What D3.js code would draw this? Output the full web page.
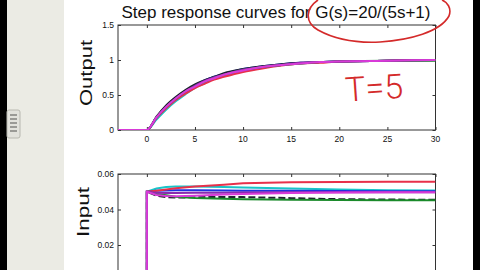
<!DOCTYPE html>
<html>
<head>
<meta charset="utf-8">
<script src="https://cdn.jsdelivr.net/npm/d3@7"></script>
<style>
  body { margin: 0; background: #000; }
  svg { display: block; }
</style>
</head>
<body>
<script>
// time samples
var tOut = [-3, 0, 1, 2, 3, 4, 5, 6, 7, 8, 10, 12, 14, 16, 18, 20, 25, 30];
var tIn = [-3, 0, 0, 1, 2, 3, 5, 8, 10, 15, 20, 25, 30];

var seriesNames = ["cyan", "blue", "black", "red", "green", "purple", "magenta"];
var seriesColors = ["#19c4c8", "#1f2fe0", "#202030", "#e8304a", "#1a8a2a", "#8a2ab0", "#d83ad8"];

// output curves (top plot)
var outCyan    = [0, 0, 0.15, 0.29, 0.41, 0.51, 0.60, 0.67, 0.73, 0.77, 0.84, 0.89, 0.93, 0.95, 0.97, 0.98, 0.99, 1.0];
var outBlue    = [0, 0, 0.18, 0.34, 0.46, 0.56, 0.64, 0.71, 0.76, 0.80, 0.87, 0.91, 0.94, 0.96, 0.97, 0.98, 0.99, 1.0];
var outBlack   = [0, 0, 0.19, 0.35, 0.47, 0.57, 0.65, 0.71, 0.76, 0.81, 0.87, 0.91, 0.94, 0.96, 0.97, 0.98, 0.99, 1.0];
var outRed     = [0, 0, 0.17, 0.31, 0.43, 0.52, 0.60, 0.66, 0.72, 0.76, 0.83, 0.88, 0.92, 0.95, 0.96, 0.98, 0.99, 1.0];
var outGreen   = [0, 0, 0.18, 0.33, 0.45, 0.55, 0.63, 0.69, 0.75, 0.79, 0.86, 0.90, 0.93, 0.95, 0.97, 0.98, 0.99, 0.99];
var outPurple  = [0, 0, 0.18, 0.33, 0.45, 0.55, 0.63, 0.70, 0.75, 0.79, 0.86, 0.90, 0.93, 0.96, 0.97, 0.98, 0.99, 1.0];
var outMagenta = [0, 0, 0.18, 0.33, 0.45, 0.55, 0.62, 0.69, 0.74, 0.79, 0.85, 0.90, 0.93, 0.95, 0.97, 0.98, 0.99, 1.0];

// input curves (bottom plot)
var inCyan    = [0, 0, 0.05, 0.0518, 0.0527, 0.0530, 0.0529, 0.0527, 0.0524, 0.0518, 0.0512, 0.0509, 0.0507];
var inBlue    = [0, 0, 0.05, 0.0505, 0.0507, 0.0508, 0.0508, 0.0507, 0.0506, 0.0505, 0.0504, 0.0503, 0.0503];
var inBlack   = [0, 0, 0.05, 0.0478, 0.0470, 0.0467, 0.0469, 0.0471, 0.0470, 0.0464, 0.0458, 0.0456, 0.0455];
var inRed     = [0, 0, 0.05, 0.0506, 0.0513, 0.0520, 0.0530, 0.0540, 0.0548, 0.0553, 0.0555, 0.0556, 0.0557];
var inGreen   = [0, 0, 0.05, 0.0488, 0.0480, 0.0472, 0.0465, 0.0460, 0.0458, 0.0455, 0.0453, 0.0452, 0.0452];
var inPurple  = [0, 0, 0.05, 0.0495, 0.0493, 0.0493, 0.0494, 0.0495, 0.0496, 0.0497, 0.0497, 0.0497, 0.0497];
var inMagenta = [0, 0, 0.05, 0.0482, 0.0476, 0.0475, 0.0478, 0.0485, 0.0488, 0.0493, 0.0496, 0.0497, 0.0497];

var outputs = [outCyan, outBlue, outBlack, outRed, outGreen, outPurple, outMagenta];
var inputs = [inCyan, inBlue, inBlack, inRed, inGreen, inPurple, inMagenta];

var xTicks = [0, 5, 10, 15, 20, 25, 30];
var outTicks = [0, 0.5, 1, 1.5];
var inTicks = [0.02, 0.04, 0.06];

var w = 480, h = 270;

let svg = d3.select("body")
    .append("svg")
    .attr("width", w)
    .attr("height", h);

// screen background pieces
svg.append("rect").attr("x", 0).attr("y", 0).attr("width", w).attr("height", h).attr("fill", "#000");
svg.append("rect").attr("x", 7).attr("y", 0).attr("width", 57).attr("height", h).attr("fill", "#ebebe4");
svg.append("rect").attr("x", 64).attr("y", 0).attr("width", 409).attr("height", h).attr("fill", "#fff");

// little scroll handle on the left
svg.append("rect").attr("x", 7).attr("y", 110).attr("width", 13).attr("height", 28)
    .attr("rx", 2).attr("fill", "#e2e2dc").attr("stroke", "#b8b8b0");
[114, 118, 122, 126, 130].forEach(function(yy) {
    svg.append("rect").attr("x", 10).attr("y", yy).attr("width", 7).attr("height", 2).attr("fill", "#9a9a96");
});

let x = d3.scaleLinear().domain([-3, 30]).range([118, 435.5]);
let yOut = d3.scaleLinear().domain([0, 1.5]).range([130, 25]);
let yIn = d3.scaleLinear().domain([0, 0.06]).range([280.5, 174]);

svg.append("defs").append("clipPath").attr("id", "clipTop")
    .append("rect").attr("x", 118).attr("y", 25).attr("width", 317.5).attr("height", 105);
svg.select("defs").append("clipPath").attr("id", "clipBot")
    .append("rect").attr("x", 118).attr("y", 174).attr("width", 317.5).attr("height", 107);

let tickFont = "Liberation Sans, Arial, sans-serif";

function drawAxes(y, ticks, yTop, yBot, showXLabels, fmt) {
    let g = svg.append("g");
    g.append("rect")
        .attr("x", 118).attr("y", yTop)
        .attr("width", 317.5).attr("height", yBot - yTop)
        .attr("fill", "none").attr("stroke", "#333").attr("stroke-width", 1);

    // inward ticks on every side
    g.append("g").attr("transform", "translate(0," + yBot + ")")
        .call(d3.axisTop(x).tickValues(xTicks).tickSize(3).tickFormat(""))
        .call(function(s) { s.select(".domain").remove(); });
    g.append("g").attr("transform", "translate(0," + yTop + ")")
        .call(d3.axisBottom(x).tickValues(xTicks).tickSize(3).tickFormat(""))
        .call(function(s) { s.select(".domain").remove(); });
    g.append("g").attr("transform", "translate(118,0)")
        .call(d3.axisRight(y).tickValues(ticks).tickSize(3).tickFormat(""))
        .call(function(s) { s.select(".domain").remove(); });
    g.append("g").attr("transform", "translate(435.5,0)")
        .call(d3.axisLeft(y).tickValues(ticks).tickSize(3).tickFormat(""))
        .call(function(s) { s.select(".domain").remove(); });
    g.selectAll(".tick line").attr("stroke", "#333");

    // tick labels
    g.selectAll("text.ylab")
        .data(ticks)
        .enter()
        .append("text")
        .attr("class", "ylab")
        .attr("x", 114)
        .attr("y", function(d) { return y(d) + 3; })
        .attr("text-anchor", "end")
        .attr("font-family", tickFont)
        .attr("font-size", "8.5px")
        .attr("fill", "#111")
        .text(fmt);

    if (showXLabels) {
        g.selectAll("text.xlab")
            .data(xTicks)
            .enter()
            .append("text")
            .attr("class", "xlab")
            .attr("x", function(d) { return x(d); })
            .attr("y", yBot + 12)
            .attr("text-anchor", "middle")
            .attr("font-family", tickFont)
            .attr("font-size", "8.5px")
            .attr("fill", "#111")
            .text(function(d) { return d; });
    }
}

drawAxes(yOut, outTicks, 25, 130, true, function(d) { return d; });
drawAxes(yIn, inTicks, 174, 280.5, false, function(d) { return d.toFixed(2); });

// curves
let lineOut = d3.line()
    .x(function(d) { return x(d[0]); })
    .y(function(d) { return yOut(d[1]); })
    .curve(d3.curveMonotoneX);

let lineIn = d3.line()
    .x(function(d) { return x(d[0]); })
    .y(function(d) { return yIn(d[1]); });

let gTop = svg.append("g").attr("clip-path", "url(#clipTop)");
outputs.forEach(function(vals, i) {
    gTop.append("path")
        .datum(tOut.map(function(t, j) { return [t, vals[j]]; }))
        .attr("d", lineOut)
        .attr("fill", "none")
        .attr("stroke", seriesColors[i])
        .attr("stroke-width", 2);
});

let gBot = svg.append("g").attr("clip-path", "url(#clipBot)");
inputs.forEach(function(vals, i) {
    gBot.append("path")
        .datum(tIn.map(function(t, j) { return [t, vals[j]]; }))
        .attr("d", lineIn)
        .attr("fill", "none")
        .attr("stroke", seriesColors[i])
        .attr("stroke-width", 2)
        .attr("stroke-dasharray", seriesNames[i] === "black" ? "7,3" : null);
});

// title and axis labels
svg.append("text")
    .attr("x", 276)
    .attr("y", 17.5)
    .attr("text-anchor", "middle")
    .attr("font-family", "Liberation Sans, Arial, sans-serif")
    .attr("font-size", "17px")
    .attr("fill", "#111")
    .text("Step response curves for G(s)=20/(5s+1)");

svg.append("text")
    .attr("transform", "translate(92,73) rotate(-90)")
    .attr("text-anchor", "middle")
    .attr("font-family", "Liberation Sans, Arial, sans-serif")
    .attr("font-size", "17px")
    .attr("textLength", 66)
    .attr("lengthAdjust", "spacingAndGlyphs")
    .attr("fill", "#111")
    .text("Output");

svg.append("text")
    .attr("transform", "translate(89,212) rotate(-90)")
    .attr("text-anchor", "middle")
    .attr("font-family", "Liberation Sans, Arial, sans-serif")
    .attr("font-size", "17px")
    .attr("textLength", 50)
    .attr("lengthAdjust", "spacingAndGlyphs")
    .attr("fill", "#111")
    .text("Input");

// red hand annotations
svg.append("path")
    .attr("d", "M318,0 C306,8 304,22 318,30 C336,40 360,43 380,42 C410,40 440,32 449,16 C452,8 447,2 442,0")
    .attr("fill", "none")
    .attr("stroke", "#d42a2a")
    .attr("stroke-width", 1.6);

svg.append("text")
    .attr("x", 345)
    .attr("y", 99)
    .attr("font-family", "Roboto, sans-serif")
    .attr("font-weight", 300)
    .attr("font-size", "34px")
    .attr("fill", "#d42a2a")
    .attr("transform", "rotate(-4,385,85)")
    .text("T=5");
</script>
</body>
</html>
